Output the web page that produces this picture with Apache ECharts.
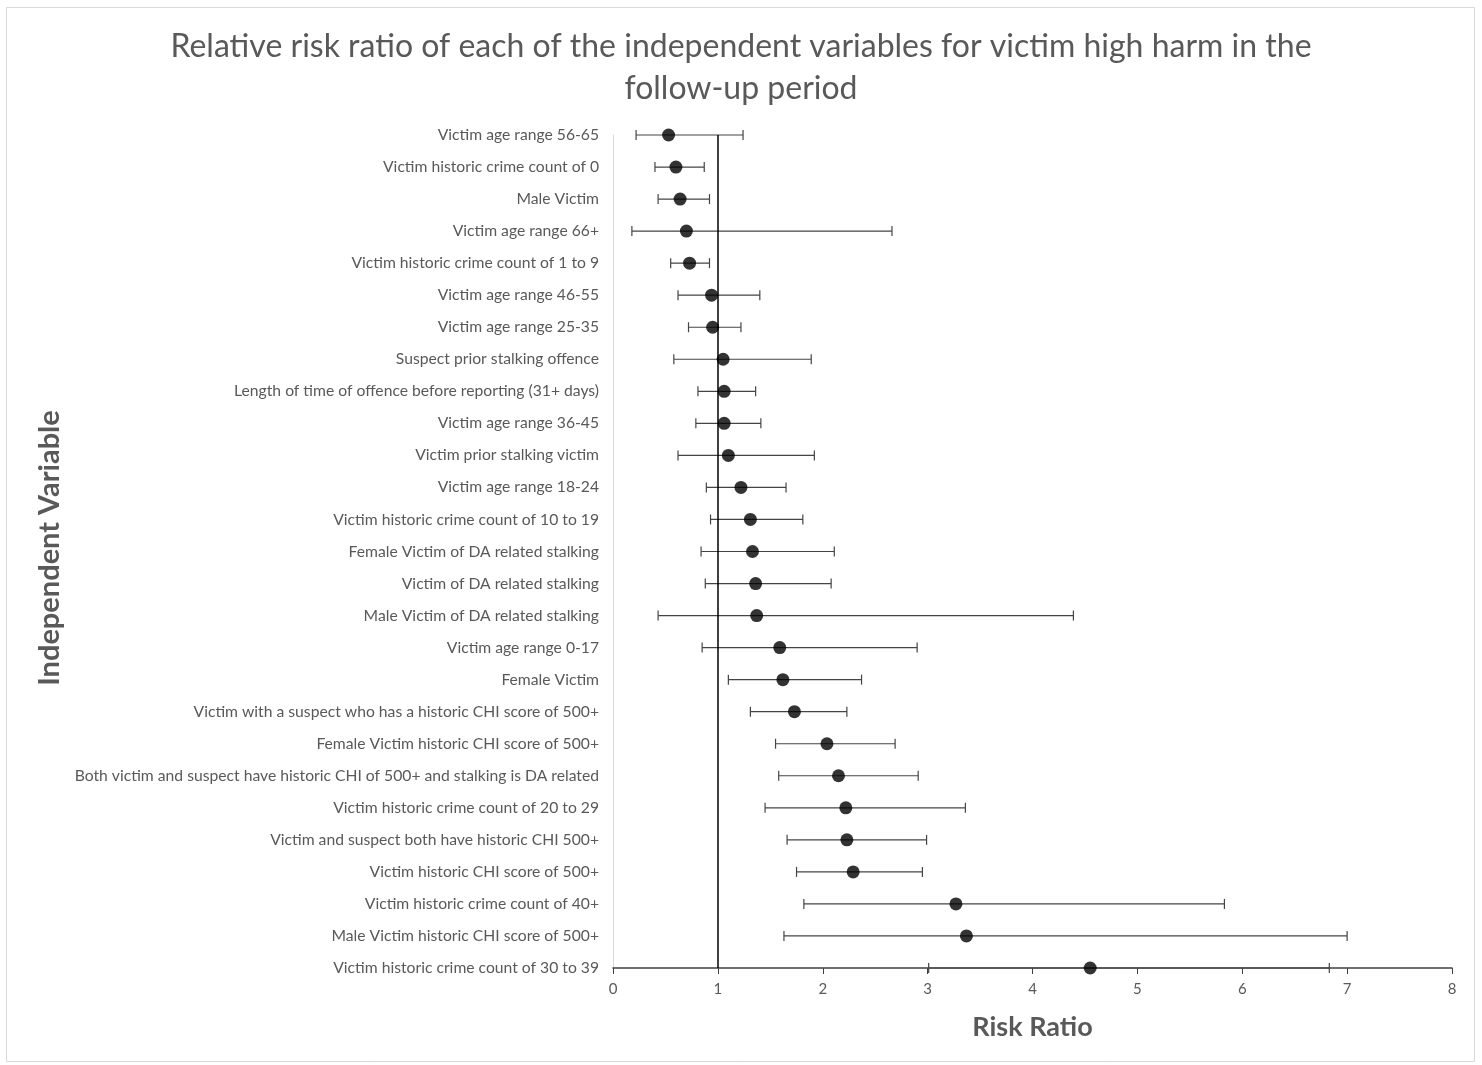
<!DOCTYPE html>
<html>
<head>
<meta charset="utf-8">
<title>Relative risk ratio – victim high harm</title>
<script src="https://cdn.jsdelivr.net/npm/echarts@6/dist/echarts.min.js"></script>
<style>
  html, body { margin: 0; padding: 0; background: #fff; }
  #chart { width: 1482px; height: 1065px; }
</style>
</head>
<body>
<div id="chart"></div>
<script>
// Independent variables, listed top to bottom
const categories = [
  'Victim age range 56-65',
  'Victim historic crime count of 0',
  'Male Victim',
  'Victim age range 66+',
  'Victim historic crime count of 1 to 9',
  'Victim age range 46-55',
  'Victim age range 25-35',
  'Suspect prior stalking offence',
  'Length of time of offence before reporting (31+ days)',
  'Victim age range 36-45',
  'Victim prior stalking victim',
  'Victim age range 18-24',
  'Victim historic crime count of 10 to 19',
  'Female Victim of DA related stalking',
  'Victim of DA related stalking',
  'Male Victim of DA related stalking',
  'Victim age range 0-17',
  'Female Victim',
  'Victim with a suspect who has a historic CHI score of 500+',
  'Female Victim historic CHI score of 500+',
  'Both victim and suspect have historic CHI of 500+ and stalking is DA related',
  'Victim historic crime count of 20 to 29',
  'Victim and suspect both have historic CHI 500+',
  'Victim historic CHI score of 500+',
  'Victim historic crime count of 40+',
  'Male Victim historic CHI score of 500+',
  'Victim historic crime count of 30 to 39'
];

// Relative risk ratio (point estimate)
const riskRatio = [
  0.53, 0.60, 0.64, 0.70, 0.73, 0.94, 0.95, 1.05, 1.06, 1.06,
  1.10, 1.22, 1.31, 1.33, 1.36, 1.37, 1.59, 1.62, 1.73, 2.04,
  2.15, 2.22, 2.23, 2.29, 3.27, 3.37, 4.55
];

// Lower confidence bound
const lowerCI = [
  0.22, 0.40, 0.43, 0.18, 0.55, 0.62, 0.72, 0.58, 0.81, 0.79,
  0.62, 0.89, 0.93, 0.84, 0.88, 0.43, 0.85, 1.10, 1.31, 1.55,
  1.58, 1.45, 1.66, 1.75, 1.82, 1.63, 3.01
];

// Upper confidence bound
const upperCI = [
  1.24, 0.87, 0.92, 2.66, 0.92, 1.40, 1.22, 1.89, 1.36, 1.41,
  1.92, 1.65, 1.81, 2.11, 2.08, 4.39, 2.90, 2.37, 2.23, 2.69,
  2.91, 3.36, 2.99, 2.95, 5.83, 7.00, 6.83
];

// Risk ratio axis ticks
const xTicks = [0, 1, 2, 3, 4, 5, 6, 7, 8];

const FONT = 'Lato, "Liberation Sans", sans-serif';
const GREY_TEXT = '#595959';

const chart = echarts.init(document.getElementById('chart'), null, { renderer: 'canvas' });

const pointData = categories.map((c, i) => [riskRatio[i], c]);
const barData = categories.map((c, i) => [lowerCI[i], upperCI[i], c]);

const option = {
  backgroundColor: '#ffffff',
  animation: false,
  title: {
    text: 'Relative risk ratio of each of the independent variables for victim high harm in the\nfollow-up period',
    left: 'center',
    top: 21,
    textStyle: {
      fontFamily: FONT,
      fontSize: 32,
      fontWeight: 'normal',
      color: GREY_TEXT,
      lineHeight: 42
    }
  },
  graphic: [
    {
      type: 'rect',
      shape: { x: 6.5, y: 7.5, width: 1468, height: 1054 },
      style: { fill: 'none', stroke: '#d9d9d9', lineWidth: 1 },
      silent: true,
      z: -10
    },
    {
      type: 'text',
      x: 50,
      y: 548,
      rotation: Math.PI / 2,
      style: {
        text: 'Independent Variable',
        fontFamily: FONT,
        fontSize: 29,
        fontWeight: 'bold',
        fill: GREY_TEXT,
        textAlign: 'center',
        textVerticalAlign: 'middle'
      },
      silent: true
    }
  ],
  grid: {
    left: 613,
    right: 30,
    top: 135,
    bottom: 97,
    containLabel: false
  },
  xAxis: {
    type: 'value',
    min: xTicks[0],
    max: xTicks[xTicks.length - 1],
    interval: 1,
    name: 'Risk Ratio',
    nameLocation: 'middle',
    nameGap: 46,
    nameTextStyle: {
      fontFamily: FONT,
      fontSize: 27,
      fontWeight: 'bold',
      color: GREY_TEXT
    },
    axisLine: { show: true, lineStyle: { color: '#404040', width: 1.5 } },
    axisTick: { show: true, length: 6, lineStyle: { color: '#404040' } },
    axisLabel: {
      fontFamily: FONT,
      fontSize: 15,
      color: GREY_TEXT,
      margin: 14
    },
    splitLine: { show: false }
  },
  yAxis: {
    type: 'category',
    data: categories,
    inverse: true,
    boundaryGap: false,
    axisLine: { show: true, lineStyle: { color: '#d9d9d9', width: 1 } },
    axisTick: { show: false },
    axisLabel: {
      fontFamily: FONT,
      fontSize: 15.7,
      color: GREY_TEXT,
      margin: 14,
      verticalAlign: 'middle',
      padding: [0, 0, 3, 0]
    },
    splitLine: { show: false }
  },
  series: [
    {
      name: 'Confidence interval',
      type: 'custom',
      data: barData,
      encode: { x: [0, 1], y: 2 },
      z: 2,
      silent: true,
      renderItem: function (params, api) {
        const yIdx = api.value(2);
        const lo = api.coord([api.value(0), yIdx]);
        const hi = api.coord([api.value(1), yIdx]);
        const cap = 5;
        const style = { stroke: '#444444', lineWidth: 1.2, fill: 'none' };
        return {
          type: 'group',
          children: [
            { type: 'line', shape: { x1: lo[0], y1: lo[1], x2: hi[0], y2: hi[1] }, style: style },
            { type: 'line', shape: { x1: lo[0], y1: lo[1] - cap, x2: lo[0], y2: lo[1] + cap }, style: style },
            { type: 'line', shape: { x1: hi[0], y1: hi[1] - cap, x2: hi[0], y2: hi[1] + cap }, style: style }
          ]
        };
      }
    },
    {
      name: 'Risk ratio',
      type: 'scatter',
      data: pointData,
      symbol: 'circle',
      symbolSize: 13,
      itemStyle: { color: '#000000' },
      z: 3,
      markLine: {
        silent: true,
        symbol: 'none',
        label: { show: false },
        lineStyle: { color: '#000000', width: 1.5, type: 'solid' },
        data: [{ xAxis: 1 }]
      }
    }
  ]
};

chart.setOption(option);
</script>
</body>
</html>
